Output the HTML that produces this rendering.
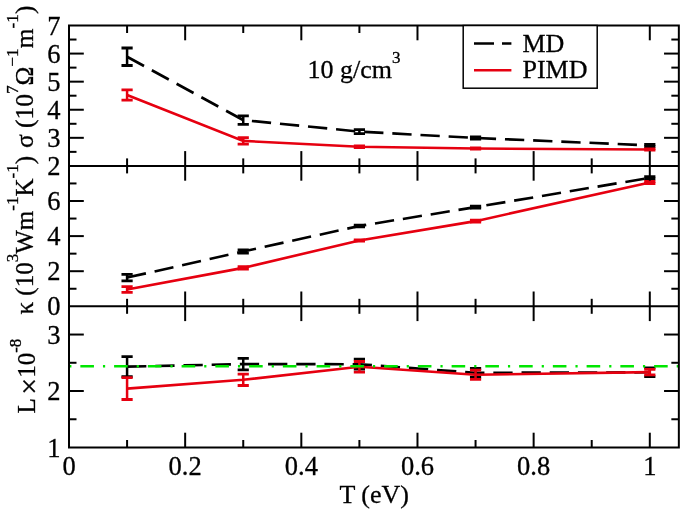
<!DOCTYPE html>
<html><head><meta charset="utf-8"><style>
html,body{margin:0;padding:0;background:#fff;width:685px;height:513px;overflow:hidden}
svg{display:block;will-change:transform}
</style></head><body>
<svg width="685" height="513" viewBox="0 0 685 513">
<rect x="0" y="0" width="685" height="513" fill="#fff"/>
<clipPath id="c0"><rect x="69.0" y="25.5" width="609.84" height="140.4"/></clipPath>
<clipPath id="c1"><rect x="69.0" y="165.9" width="609.84" height="140.4"/></clipPath>
<clipPath id="c2"><rect x="69.0" y="306.3" width="609.84" height="141.2"/></clipPath>
<g clip-path="url(#c0)">
<line x1="127.08" y1="48.00" x2="127.08" y2="65.50" stroke="#000" stroke-width="2.5" />
<line x1="121.48" y1="48.00" x2="132.68" y2="48.00" stroke="#000" stroke-width="2.8" />
<line x1="121.48" y1="65.50" x2="132.68" y2="65.50" stroke="#000" stroke-width="2.8" />
<line x1="243.24" y1="115.80" x2="243.24" y2="124.40" stroke="#000" stroke-width="2.5" />
<line x1="237.64" y1="115.80" x2="248.84" y2="115.80" stroke="#000" stroke-width="2.8" />
<line x1="237.64" y1="124.40" x2="248.84" y2="124.40" stroke="#000" stroke-width="2.8" />
<line x1="359.40" y1="129.55" x2="359.40" y2="133.65" stroke="#000" stroke-width="2.5" />
<line x1="353.80" y1="129.55" x2="365.00" y2="129.55" stroke="#000" stroke-width="2.8" />
<line x1="353.80" y1="133.65" x2="365.00" y2="133.65" stroke="#000" stroke-width="2.8" />
<line x1="475.56" y1="136.85" x2="475.56" y2="139.05" stroke="#000" stroke-width="2.5" />
<line x1="469.96" y1="136.85" x2="481.16" y2="136.85" stroke="#000" stroke-width="2.8" />
<line x1="469.96" y1="139.05" x2="481.16" y2="139.05" stroke="#000" stroke-width="2.8" />
<line x1="649.80" y1="144.30" x2="649.80" y2="146.50" stroke="#000" stroke-width="2.5" />
<line x1="644.20" y1="144.30" x2="655.40" y2="144.30" stroke="#000" stroke-width="2.8" />
<line x1="644.20" y1="146.50" x2="655.40" y2="146.50" stroke="#000" stroke-width="2.8" />
<path d="M127.08,56.75 L243.24,120.10 L359.40,131.60 L475.56,137.95 L649.80,145.40" fill="none" stroke="#000" stroke-width="2.6" stroke-dasharray="19.3 8.9"/>
<line x1="127.08" y1="89.80" x2="127.08" y2="100.20" stroke="#e60010" stroke-width="2.5" />
<line x1="121.48" y1="89.80" x2="132.68" y2="89.80" stroke="#e60010" stroke-width="2.8" />
<line x1="121.48" y1="100.20" x2="132.68" y2="100.20" stroke="#e60010" stroke-width="2.8" />
<line x1="243.24" y1="137.60" x2="243.24" y2="144.20" stroke="#e60010" stroke-width="2.5" />
<line x1="237.64" y1="137.60" x2="248.84" y2="137.60" stroke="#e60010" stroke-width="2.8" />
<line x1="237.64" y1="144.20" x2="248.84" y2="144.20" stroke="#e60010" stroke-width="2.8" />
<line x1="359.40" y1="145.90" x2="359.40" y2="147.70" stroke="#e60010" stroke-width="2.5" />
<line x1="353.80" y1="145.90" x2="365.00" y2="145.90" stroke="#e60010" stroke-width="2.8" />
<line x1="353.80" y1="147.70" x2="365.00" y2="147.70" stroke="#e60010" stroke-width="2.8" />
<line x1="475.56" y1="147.80" x2="475.56" y2="149.20" stroke="#e60010" stroke-width="2.5" />
<line x1="469.96" y1="147.80" x2="481.16" y2="147.80" stroke="#e60010" stroke-width="2.8" />
<line x1="469.96" y1="149.20" x2="481.16" y2="149.20" stroke="#e60010" stroke-width="2.8" />
<line x1="649.80" y1="148.80" x2="649.80" y2="150.20" stroke="#e60010" stroke-width="2.5" />
<line x1="644.20" y1="148.80" x2="655.40" y2="148.80" stroke="#e60010" stroke-width="2.8" />
<line x1="644.20" y1="150.20" x2="655.40" y2="150.20" stroke="#e60010" stroke-width="2.8" />
<path d="M127.08,95.00 L243.24,140.90 L359.40,146.80 L475.56,148.50 L649.80,149.50" fill="none" stroke="#e60010" stroke-width="2.6"/>
</g>
<g clip-path="url(#c1)">
<line x1="127.08" y1="274.30" x2="127.08" y2="280.90" stroke="#000" stroke-width="2.5" />
<line x1="121.48" y1="274.30" x2="132.68" y2="274.30" stroke="#000" stroke-width="2.8" />
<line x1="121.48" y1="280.90" x2="132.68" y2="280.90" stroke="#000" stroke-width="2.8" />
<line x1="243.24" y1="249.90" x2="243.24" y2="253.10" stroke="#000" stroke-width="2.5" />
<line x1="237.64" y1="249.90" x2="248.84" y2="249.90" stroke="#000" stroke-width="2.8" />
<line x1="237.64" y1="253.10" x2="248.84" y2="253.10" stroke="#000" stroke-width="2.8" />
<line x1="359.40" y1="225.05" x2="359.40" y2="226.85" stroke="#000" stroke-width="2.5" />
<line x1="353.80" y1="225.05" x2="365.00" y2="225.05" stroke="#000" stroke-width="2.8" />
<line x1="353.80" y1="226.85" x2="365.00" y2="226.85" stroke="#000" stroke-width="2.8" />
<line x1="475.56" y1="206.25" x2="475.56" y2="208.05" stroke="#000" stroke-width="2.5" />
<line x1="469.96" y1="206.25" x2="481.16" y2="206.25" stroke="#000" stroke-width="2.8" />
<line x1="469.96" y1="208.05" x2="481.16" y2="208.05" stroke="#000" stroke-width="2.8" />
<line x1="649.80" y1="176.70" x2="649.80" y2="178.90" stroke="#000" stroke-width="2.5" />
<line x1="644.20" y1="176.70" x2="655.40" y2="176.70" stroke="#000" stroke-width="2.8" />
<line x1="644.20" y1="178.90" x2="655.40" y2="178.90" stroke="#000" stroke-width="2.8" />
<path d="M127.08,277.60 L243.24,251.50 L359.40,225.95 L475.56,207.15 L649.80,177.80" fill="none" stroke="#000" stroke-width="2.6" stroke-dasharray="19.3 8.9"/>
<line x1="127.08" y1="286.70" x2="127.08" y2="292.40" stroke="#e60010" stroke-width="2.5" />
<line x1="121.48" y1="286.70" x2="132.68" y2="286.70" stroke="#e60010" stroke-width="2.8" />
<line x1="121.48" y1="292.40" x2="132.68" y2="292.40" stroke="#e60010" stroke-width="2.8" />
<line x1="243.24" y1="266.60" x2="243.24" y2="269.20" stroke="#e60010" stroke-width="2.5" />
<line x1="237.64" y1="266.60" x2="248.84" y2="266.60" stroke="#e60010" stroke-width="2.8" />
<line x1="237.64" y1="269.20" x2="248.84" y2="269.20" stroke="#e60010" stroke-width="2.8" />
<line x1="359.40" y1="239.85" x2="359.40" y2="241.05" stroke="#e60010" stroke-width="2.5" />
<line x1="353.80" y1="239.85" x2="365.00" y2="239.85" stroke="#e60010" stroke-width="2.8" />
<line x1="353.80" y1="241.05" x2="365.00" y2="241.05" stroke="#e60010" stroke-width="2.8" />
<line x1="475.56" y1="220.25" x2="475.56" y2="222.05" stroke="#e60010" stroke-width="2.5" />
<line x1="469.96" y1="220.25" x2="481.16" y2="220.25" stroke="#e60010" stroke-width="2.8" />
<line x1="469.96" y1="222.05" x2="481.16" y2="222.05" stroke="#e60010" stroke-width="2.8" />
<line x1="649.80" y1="181.50" x2="649.80" y2="183.50" stroke="#e60010" stroke-width="2.5" />
<line x1="644.20" y1="181.50" x2="655.40" y2="181.50" stroke="#e60010" stroke-width="2.8" />
<line x1="644.20" y1="183.50" x2="655.40" y2="183.50" stroke="#e60010" stroke-width="2.8" />
<path d="M127.08,289.55 L243.24,267.90 L359.40,240.45 L475.56,221.15 L649.80,182.50" fill="none" stroke="#e60010" stroke-width="2.6"/>
</g>
<g clip-path="url(#c2)">
<line x1="127.08" y1="356.60" x2="127.08" y2="376.60" stroke="#000" stroke-width="2.5" />
<line x1="121.48" y1="356.60" x2="132.68" y2="356.60" stroke="#000" stroke-width="2.8" />
<line x1="121.48" y1="376.60" x2="132.68" y2="376.60" stroke="#000" stroke-width="2.8" />
<line x1="243.24" y1="358.30" x2="243.24" y2="369.90" stroke="#000" stroke-width="2.5" />
<line x1="237.64" y1="358.30" x2="248.84" y2="358.30" stroke="#000" stroke-width="2.8" />
<line x1="237.64" y1="369.90" x2="248.84" y2="369.90" stroke="#000" stroke-width="2.8" />
<line x1="359.40" y1="359.20" x2="359.40" y2="369.20" stroke="#000" stroke-width="2.5" />
<line x1="353.80" y1="359.20" x2="365.00" y2="359.20" stroke="#000" stroke-width="2.8" />
<line x1="353.80" y1="369.20" x2="365.00" y2="369.20" stroke="#000" stroke-width="2.8" />
<line x1="475.56" y1="368.50" x2="475.56" y2="377.10" stroke="#000" stroke-width="2.5" />
<line x1="469.96" y1="368.50" x2="481.16" y2="368.50" stroke="#000" stroke-width="2.8" />
<line x1="469.96" y1="377.10" x2="481.16" y2="377.10" stroke="#000" stroke-width="2.8" />
<line x1="649.80" y1="367.90" x2="649.80" y2="376.70" stroke="#000" stroke-width="2.5" />
<line x1="644.20" y1="367.90" x2="655.40" y2="367.90" stroke="#000" stroke-width="2.8" />
<line x1="644.20" y1="376.70" x2="655.40" y2="376.70" stroke="#000" stroke-width="2.8" />
<path d="M127.08,366.60 L243.24,364.10 L359.40,364.20 L475.56,372.80 L649.80,372.30" fill="none" stroke="#000" stroke-width="2.6" stroke-dasharray="19.3 8.9"/>
<line x1="127.08" y1="377.70" x2="127.08" y2="399.50" stroke="#e60010" stroke-width="2.5" />
<line x1="121.48" y1="377.70" x2="132.68" y2="377.70" stroke="#e60010" stroke-width="2.8" />
<line x1="121.48" y1="399.50" x2="132.68" y2="399.50" stroke="#e60010" stroke-width="2.8" />
<line x1="243.24" y1="374.10" x2="243.24" y2="385.50" stroke="#e60010" stroke-width="2.5" />
<line x1="237.64" y1="374.10" x2="248.84" y2="374.10" stroke="#e60010" stroke-width="2.8" />
<line x1="237.64" y1="385.50" x2="248.84" y2="385.50" stroke="#e60010" stroke-width="2.8" />
<line x1="359.40" y1="361.50" x2="359.40" y2="372.10" stroke="#e60010" stroke-width="2.5" />
<line x1="353.80" y1="361.50" x2="365.00" y2="361.50" stroke="#e60010" stroke-width="2.8" />
<line x1="353.80" y1="372.10" x2="365.00" y2="372.10" stroke="#e60010" stroke-width="2.8" />
<line x1="475.56" y1="370.10" x2="475.56" y2="379.40" stroke="#e60010" stroke-width="2.5" />
<line x1="469.96" y1="370.10" x2="481.16" y2="370.10" stroke="#e60010" stroke-width="2.8" />
<line x1="469.96" y1="379.40" x2="481.16" y2="379.40" stroke="#e60010" stroke-width="2.8" />
<line x1="649.80" y1="369.35" x2="649.80" y2="374.85" stroke="#e60010" stroke-width="2.5" />
<line x1="644.20" y1="369.35" x2="655.40" y2="369.35" stroke="#e60010" stroke-width="2.8" />
<line x1="644.20" y1="374.85" x2="655.40" y2="374.85" stroke="#e60010" stroke-width="2.8" />
<path d="M127.08,388.60 L243.24,379.80 L359.40,366.80 L475.56,374.75 L649.80,372.10" fill="none" stroke="#e60010" stroke-width="2.6"/>
</g>
<path d="M69.00,366.3 L678.84,366.3" stroke="#00e600" stroke-width="2.6" stroke-dasharray="13.6 9.0 2.2 8.95" stroke-dashoffset="22.4" fill="none"/>
<line x1="127.08" y1="165.90" x2="127.08" y2="158.40" stroke="#000" stroke-width="2.0" />
<line x1="127.08" y1="25.50" x2="127.08" y2="33.00" stroke="#000" stroke-width="2.0" />
<line x1="185.16" y1="165.90" x2="185.16" y2="151.10" stroke="#000" stroke-width="2.0" />
<line x1="185.16" y1="25.50" x2="185.16" y2="40.30" stroke="#000" stroke-width="2.0" />
<line x1="243.24" y1="165.90" x2="243.24" y2="158.40" stroke="#000" stroke-width="2.0" />
<line x1="243.24" y1="25.50" x2="243.24" y2="33.00" stroke="#000" stroke-width="2.0" />
<line x1="301.32" y1="165.90" x2="301.32" y2="151.10" stroke="#000" stroke-width="2.0" />
<line x1="301.32" y1="25.50" x2="301.32" y2="40.30" stroke="#000" stroke-width="2.0" />
<line x1="359.40" y1="165.90" x2="359.40" y2="158.40" stroke="#000" stroke-width="2.0" />
<line x1="359.40" y1="25.50" x2="359.40" y2="33.00" stroke="#000" stroke-width="2.0" />
<line x1="417.48" y1="165.90" x2="417.48" y2="151.10" stroke="#000" stroke-width="2.0" />
<line x1="417.48" y1="25.50" x2="417.48" y2="40.30" stroke="#000" stroke-width="2.0" />
<line x1="475.56" y1="165.90" x2="475.56" y2="158.40" stroke="#000" stroke-width="2.0" />
<line x1="475.56" y1="25.50" x2="475.56" y2="33.00" stroke="#000" stroke-width="2.0" />
<line x1="533.64" y1="165.90" x2="533.64" y2="151.10" stroke="#000" stroke-width="2.0" />
<line x1="533.64" y1="25.50" x2="533.64" y2="40.30" stroke="#000" stroke-width="2.0" />
<line x1="591.72" y1="165.90" x2="591.72" y2="158.40" stroke="#000" stroke-width="2.0" />
<line x1="591.72" y1="25.50" x2="591.72" y2="33.00" stroke="#000" stroke-width="2.0" />
<line x1="649.80" y1="165.90" x2="649.80" y2="151.10" stroke="#000" stroke-width="2.0" />
<line x1="649.80" y1="25.50" x2="649.80" y2="40.30" stroke="#000" stroke-width="2.0" />
<line x1="69.00" y1="151.86" x2="76.50" y2="151.86" stroke="#000" stroke-width="2.0" />
<line x1="678.84" y1="151.86" x2="671.34" y2="151.86" stroke="#000" stroke-width="2.0" />
<line x1="69.00" y1="137.82" x2="83.80" y2="137.82" stroke="#000" stroke-width="2.0" />
<line x1="678.84" y1="137.82" x2="664.04" y2="137.82" stroke="#000" stroke-width="2.0" />
<line x1="69.00" y1="123.78" x2="76.50" y2="123.78" stroke="#000" stroke-width="2.0" />
<line x1="678.84" y1="123.78" x2="671.34" y2="123.78" stroke="#000" stroke-width="2.0" />
<line x1="69.00" y1="109.74" x2="83.80" y2="109.74" stroke="#000" stroke-width="2.0" />
<line x1="678.84" y1="109.74" x2="664.04" y2="109.74" stroke="#000" stroke-width="2.0" />
<line x1="69.00" y1="95.70" x2="76.50" y2="95.70" stroke="#000" stroke-width="2.0" />
<line x1="678.84" y1="95.70" x2="671.34" y2="95.70" stroke="#000" stroke-width="2.0" />
<line x1="69.00" y1="81.66" x2="83.80" y2="81.66" stroke="#000" stroke-width="2.0" />
<line x1="678.84" y1="81.66" x2="664.04" y2="81.66" stroke="#000" stroke-width="2.0" />
<line x1="69.00" y1="67.62" x2="76.50" y2="67.62" stroke="#000" stroke-width="2.0" />
<line x1="678.84" y1="67.62" x2="671.34" y2="67.62" stroke="#000" stroke-width="2.0" />
<line x1="69.00" y1="53.58" x2="83.80" y2="53.58" stroke="#000" stroke-width="2.0" />
<line x1="678.84" y1="53.58" x2="664.04" y2="53.58" stroke="#000" stroke-width="2.0" />
<line x1="69.00" y1="39.54" x2="76.50" y2="39.54" stroke="#000" stroke-width="2.0" />
<line x1="678.84" y1="39.54" x2="671.34" y2="39.54" stroke="#000" stroke-width="2.0" />
<line x1="127.08" y1="306.30" x2="127.08" y2="298.80" stroke="#000" stroke-width="2.0" />
<line x1="127.08" y1="165.90" x2="127.08" y2="173.40" stroke="#000" stroke-width="2.0" />
<line x1="185.16" y1="306.30" x2="185.16" y2="291.50" stroke="#000" stroke-width="2.0" />
<line x1="185.16" y1="165.90" x2="185.16" y2="180.70" stroke="#000" stroke-width="2.0" />
<line x1="243.24" y1="306.30" x2="243.24" y2="298.80" stroke="#000" stroke-width="2.0" />
<line x1="243.24" y1="165.90" x2="243.24" y2="173.40" stroke="#000" stroke-width="2.0" />
<line x1="301.32" y1="306.30" x2="301.32" y2="291.50" stroke="#000" stroke-width="2.0" />
<line x1="301.32" y1="165.90" x2="301.32" y2="180.70" stroke="#000" stroke-width="2.0" />
<line x1="359.40" y1="306.30" x2="359.40" y2="298.80" stroke="#000" stroke-width="2.0" />
<line x1="359.40" y1="165.90" x2="359.40" y2="173.40" stroke="#000" stroke-width="2.0" />
<line x1="417.48" y1="306.30" x2="417.48" y2="291.50" stroke="#000" stroke-width="2.0" />
<line x1="417.48" y1="165.90" x2="417.48" y2="180.70" stroke="#000" stroke-width="2.0" />
<line x1="475.56" y1="306.30" x2="475.56" y2="298.80" stroke="#000" stroke-width="2.0" />
<line x1="475.56" y1="165.90" x2="475.56" y2="173.40" stroke="#000" stroke-width="2.0" />
<line x1="533.64" y1="306.30" x2="533.64" y2="291.50" stroke="#000" stroke-width="2.0" />
<line x1="533.64" y1="165.90" x2="533.64" y2="180.70" stroke="#000" stroke-width="2.0" />
<line x1="591.72" y1="306.30" x2="591.72" y2="298.80" stroke="#000" stroke-width="2.0" />
<line x1="591.72" y1="165.90" x2="591.72" y2="173.40" stroke="#000" stroke-width="2.0" />
<line x1="649.80" y1="306.30" x2="649.80" y2="291.50" stroke="#000" stroke-width="2.0" />
<line x1="649.80" y1="165.90" x2="649.80" y2="180.70" stroke="#000" stroke-width="2.0" />
<line x1="69.00" y1="288.75" x2="76.50" y2="288.75" stroke="#000" stroke-width="2.0" />
<line x1="678.84" y1="288.75" x2="671.34" y2="288.75" stroke="#000" stroke-width="2.0" />
<line x1="69.00" y1="271.20" x2="83.80" y2="271.20" stroke="#000" stroke-width="2.0" />
<line x1="678.84" y1="271.20" x2="664.04" y2="271.20" stroke="#000" stroke-width="2.0" />
<line x1="69.00" y1="253.65" x2="76.50" y2="253.65" stroke="#000" stroke-width="2.0" />
<line x1="678.84" y1="253.65" x2="671.34" y2="253.65" stroke="#000" stroke-width="2.0" />
<line x1="69.00" y1="236.10" x2="83.80" y2="236.10" stroke="#000" stroke-width="2.0" />
<line x1="678.84" y1="236.10" x2="664.04" y2="236.10" stroke="#000" stroke-width="2.0" />
<line x1="69.00" y1="218.55" x2="76.50" y2="218.55" stroke="#000" stroke-width="2.0" />
<line x1="678.84" y1="218.55" x2="671.34" y2="218.55" stroke="#000" stroke-width="2.0" />
<line x1="69.00" y1="201.00" x2="83.80" y2="201.00" stroke="#000" stroke-width="2.0" />
<line x1="678.84" y1="201.00" x2="664.04" y2="201.00" stroke="#000" stroke-width="2.0" />
<line x1="69.00" y1="183.45" x2="76.50" y2="183.45" stroke="#000" stroke-width="2.0" />
<line x1="678.84" y1="183.45" x2="671.34" y2="183.45" stroke="#000" stroke-width="2.0" />
<line x1="127.08" y1="447.50" x2="127.08" y2="440.00" stroke="#000" stroke-width="2.0" />
<line x1="127.08" y1="306.30" x2="127.08" y2="313.80" stroke="#000" stroke-width="2.0" />
<line x1="185.16" y1="447.50" x2="185.16" y2="432.70" stroke="#000" stroke-width="2.0" />
<line x1="185.16" y1="306.30" x2="185.16" y2="321.10" stroke="#000" stroke-width="2.0" />
<line x1="243.24" y1="447.50" x2="243.24" y2="440.00" stroke="#000" stroke-width="2.0" />
<line x1="243.24" y1="306.30" x2="243.24" y2="313.80" stroke="#000" stroke-width="2.0" />
<line x1="301.32" y1="447.50" x2="301.32" y2="432.70" stroke="#000" stroke-width="2.0" />
<line x1="301.32" y1="306.30" x2="301.32" y2="321.10" stroke="#000" stroke-width="2.0" />
<line x1="359.40" y1="447.50" x2="359.40" y2="440.00" stroke="#000" stroke-width="2.0" />
<line x1="359.40" y1="306.30" x2="359.40" y2="313.80" stroke="#000" stroke-width="2.0" />
<line x1="417.48" y1="447.50" x2="417.48" y2="432.70" stroke="#000" stroke-width="2.0" />
<line x1="417.48" y1="306.30" x2="417.48" y2="321.10" stroke="#000" stroke-width="2.0" />
<line x1="475.56" y1="447.50" x2="475.56" y2="440.00" stroke="#000" stroke-width="2.0" />
<line x1="475.56" y1="306.30" x2="475.56" y2="313.80" stroke="#000" stroke-width="2.0" />
<line x1="533.64" y1="447.50" x2="533.64" y2="432.70" stroke="#000" stroke-width="2.0" />
<line x1="533.64" y1="306.30" x2="533.64" y2="321.10" stroke="#000" stroke-width="2.0" />
<line x1="591.72" y1="447.50" x2="591.72" y2="440.00" stroke="#000" stroke-width="2.0" />
<line x1="591.72" y1="306.30" x2="591.72" y2="313.80" stroke="#000" stroke-width="2.0" />
<line x1="649.80" y1="447.50" x2="649.80" y2="432.70" stroke="#000" stroke-width="2.0" />
<line x1="649.80" y1="306.30" x2="649.80" y2="321.10" stroke="#000" stroke-width="2.0" />
<line x1="69.00" y1="419.26" x2="76.50" y2="419.26" stroke="#000" stroke-width="2.0" />
<line x1="678.84" y1="419.26" x2="671.34" y2="419.26" stroke="#000" stroke-width="2.0" />
<line x1="69.00" y1="391.02" x2="83.80" y2="391.02" stroke="#000" stroke-width="2.0" />
<line x1="678.84" y1="391.02" x2="664.04" y2="391.02" stroke="#000" stroke-width="2.0" />
<line x1="69.00" y1="362.78" x2="76.50" y2="362.78" stroke="#000" stroke-width="2.0" />
<line x1="678.84" y1="362.78" x2="671.34" y2="362.78" stroke="#000" stroke-width="2.0" />
<line x1="69.00" y1="334.54" x2="83.80" y2="334.54" stroke="#000" stroke-width="2.0" />
<line x1="678.84" y1="334.54" x2="664.04" y2="334.54" stroke="#000" stroke-width="2.0" />
<rect x="69.0" y="25.5" width="609.84" height="422.0" fill="none" stroke="#000" stroke-width="2.0"/>
<line x1="69.00" y1="165.90" x2="678.84" y2="165.90" stroke="#000" stroke-width="2.0" />
<line x1="69.00" y1="306.30" x2="678.84" y2="306.30" stroke="#000" stroke-width="2.0" />
<rect x="463.2" y="25.5" width="134.0" height="62.7" fill="#fff" stroke="#000" stroke-width="1.5"/>
<line x1="474.00" y1="43.50" x2="511.40" y2="43.50" stroke="#000" stroke-width="2.6" stroke-dasharray="20 8"/>
<line x1="474.00" y1="70.20" x2="511.40" y2="70.20" stroke="#e60010" stroke-width="2.6" />
<text x="522.5" y="51.5" font-family="Liberation Serif, serif" stroke="#000" stroke-width="0.3" font-size="26">MD</text>
<text x="522.5" y="78.2" font-family="Liberation Serif, serif" stroke="#000" stroke-width="0.3" font-size="26">PIMD</text>
<text x="307.5" y="77.5" font-family="Liberation Serif, serif" stroke="#000" stroke-width="0.3" font-size="26">10 g/cm<tspan dy="-14.8" font-size="17">3</tspan></text>
<text x="60.5" y="175.00" font-family="Liberation Serif, serif" stroke="#000" stroke-width="0.3" font-size="26.5" text-anchor="end">2</text>
<text x="60.5" y="146.92" font-family="Liberation Serif, serif" stroke="#000" stroke-width="0.3" font-size="26.5" text-anchor="end">3</text>
<text x="60.5" y="118.84" font-family="Liberation Serif, serif" stroke="#000" stroke-width="0.3" font-size="26.5" text-anchor="end">4</text>
<text x="60.5" y="90.76" font-family="Liberation Serif, serif" stroke="#000" stroke-width="0.3" font-size="26.5" text-anchor="end">5</text>
<text x="60.5" y="62.68" font-family="Liberation Serif, serif" stroke="#000" stroke-width="0.3" font-size="26.5" text-anchor="end">6</text>
<text x="60.5" y="34.60" font-family="Liberation Serif, serif" stroke="#000" stroke-width="0.3" font-size="26.5" text-anchor="end">7</text>
<text x="60.5" y="315.40" font-family="Liberation Serif, serif" stroke="#000" stroke-width="0.3" font-size="26.5" text-anchor="end">0</text>
<text x="60.5" y="280.30" font-family="Liberation Serif, serif" stroke="#000" stroke-width="0.3" font-size="26.5" text-anchor="end">2</text>
<text x="60.5" y="245.20" font-family="Liberation Serif, serif" stroke="#000" stroke-width="0.3" font-size="26.5" text-anchor="end">4</text>
<text x="60.5" y="210.10" font-family="Liberation Serif, serif" stroke="#000" stroke-width="0.3" font-size="26.5" text-anchor="end">6</text>
<text x="60.5" y="456.60" font-family="Liberation Serif, serif" stroke="#000" stroke-width="0.3" font-size="26.5" text-anchor="end">1</text>
<text x="60.5" y="400.12" font-family="Liberation Serif, serif" stroke="#000" stroke-width="0.3" font-size="26.5" text-anchor="end">2</text>
<text x="60.5" y="343.64" font-family="Liberation Serif, serif" stroke="#000" stroke-width="0.3" font-size="26.5" text-anchor="end">3</text>
<text x="69.00" y="475" font-family="Liberation Serif, serif" stroke="#000" stroke-width="0.3" font-size="26.5" text-anchor="middle">0</text>
<text x="185.16" y="475" font-family="Liberation Serif, serif" stroke="#000" stroke-width="0.3" font-size="26.5" text-anchor="middle">0.2</text>
<text x="301.32" y="475" font-family="Liberation Serif, serif" stroke="#000" stroke-width="0.3" font-size="26.5" text-anchor="middle">0.4</text>
<text x="417.48" y="475" font-family="Liberation Serif, serif" stroke="#000" stroke-width="0.3" font-size="26.5" text-anchor="middle">0.6</text>
<text x="533.64" y="475" font-family="Liberation Serif, serif" stroke="#000" stroke-width="0.3" font-size="26.5" text-anchor="middle">0.8</text>
<text x="649.80" y="475" font-family="Liberation Serif, serif" stroke="#000" stroke-width="0.3" font-size="26.5" text-anchor="middle">1</text>
<text x="374.2" y="502.8" font-family="Liberation Serif, serif" stroke="#000" stroke-width="0.3" font-size="26" text-anchor="middle">T (eV)</text>
<text transform="translate(33.3,148.0) rotate(-90) scale(1.016,1)" x="0" y="0" font-family="Liberation Serif, serif" stroke="#000" stroke-width="0.3" font-size="25"><tspan>σ (10</tspan><tspan dy="-15.4" font-size="17">7</tspan><tspan dy="15.4">Ω</tspan><tspan dy="-15.4" font-size="17">−1</tspan><tspan dy="15.4">m</tspan><tspan dy="-15.4" font-size="17">-1</tspan><tspan dy="15.4">)</tspan></text>
<text transform="translate(33.3,314.5) rotate(-90)" x="0" y="0" font-family="Liberation Serif, serif" stroke="#000" stroke-width="0.3" font-size="25"><tspan>κ (10</tspan><tspan dy="-15.4" font-size="17">3</tspan><tspan dy="15.4">Wm</tspan><tspan dy="-15.4" font-size="17">-1</tspan><tspan dy="15.4">K</tspan><tspan dy="-15.4" font-size="17">-1</tspan><tspan dy="15.4">)</tspan></text>
<text transform="translate(35.2,413.5) rotate(-90)" x="0" y="0" font-family="Liberation Serif, serif" stroke="#000" stroke-width="0.3" font-size="25">L<tspan dx="3.5" dy="3.9" font-size="30">×</tspan><tspan dy="-3.9">10</tspan><tspan dy="-14.2" font-size="17">-8</tspan></text>
</svg>
</body></html>
